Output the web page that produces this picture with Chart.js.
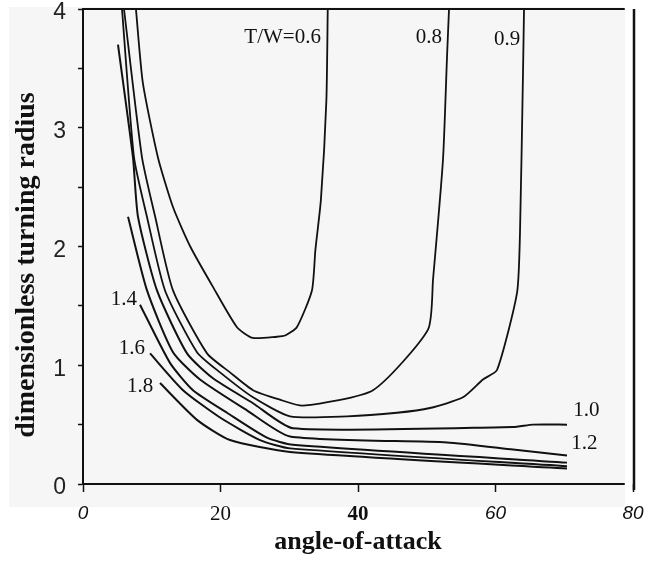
<!DOCTYPE html>
<html>
<head>
<meta charset="utf-8">
<script src="https://cdn.jsdelivr.net/npm/chart.js@4.4.1/dist/chart.umd.min.js"></script>
<style>
  html, body { margin: 0; padding: 0; background: #fff; }
  #wrap { width: 655px; height: 562px; }
</style>
</head>
<body>
<div id="wrap"><canvas id="turnChart" width="655" height="562"></canvas></div>
<script>
// thrust-to-weight ratio of each contour
const thrustRatios = ['0.6', '0.8', '0.9', '1.0', '1.2', '1.4', '1.6', '1.8'];

// angle-of-attack (x) and dimensionless turning radius (y)
const alpha06  = [7.7, 8.7, 10.9, 13.1, 15.6, 18.9, 22.4, 24.7, 28.2, 29.4, 31.1, 33.3, 33.8, 34.6, 35.4, 35.6];
const radius06 = [4.0, 3.38, 2.75, 2.33, 2.0, 1.66, 1.32, 1.23, 1.24, 1.25, 1.32, 1.63, 1.97, 2.39, 3.23, 4.0];

const alpha08  = [5.96, 8.58, 10.5, 13.09, 18.04, 21.38, 24.73, 28.65, 32.0, 42.18, 50.18, 50.91, 52.36, 52.95, 53.24];
const radius08 = [4.0, 2.75, 2.25, 1.63, 1.10, 0.94, 0.79, 0.71, 0.66, 0.79, 1.30, 1.72, 2.73, 3.60, 4.0];

const alpha09  = [5.67, 7.42, 9.3, 11.93, 16.58, 19.93, 24.73, 30.11, 38.4, 45.67, 50.47, 55.27, 58.18, 60.22, 63.13, 63.56, 64.0, 64.15];
const radius09 = [4.0, 2.75, 2.25, 1.63, 1.11, 0.94, 0.73, 0.57, 0.57, 0.60, 0.64, 0.73, 0.88, 0.96, 1.61, 2.11, 3.46, 4.0];

const alpha10  = [5.09, 7.27, 8.0, 10.76, 15.13, 18.91, 24.73, 30.55, 62.55, 65.45, 70.4];
const radius10 = [3.70, 2.75, 2.25, 1.63, 1.10, 0.89, 0.68, 0.47, 0.48, 0.50, 0.50];

const alpha12  = [6.55, 9.31, 13.09, 17.02, 23.85, 30.11, 52.95, 62.55, 70.4];
const radius12 = [2.25, 1.63, 1.11, 0.88, 0.62, 0.40, 0.35, 0.29, 0.24];

const alpha14  = [8.29, 12.65, 16.0, 20.95, 26.76, 30.55, 70.4];
const radius14 = [1.51, 1.02, 0.79, 0.60, 0.39, 0.33, 0.18];

const alpha16  = [9.75, 14.55, 19.93, 25.75, 30.11, 70.4];
const radius16 = [1.10, 0.79, 0.56, 0.37, 0.30, 0.15];

const alpha18  = [11.2, 16.58, 21.38, 30.11, 70.4];
const radius18 = [0.85, 0.54, 0.37, 0.27, 0.13];

const alphaSets  = [alpha06, alpha08, alpha09, alpha10, alpha12, alpha14, alpha16, alpha18];
const radiusSets = [radius06, radius08, radius09, radius10, radius12, radius14, radius16, radius18];

// where each contour's label sits (data units)
const labelText = ['T/W=0.6', '0.8', '0.9', '1.0', '1.2', '1.4', '1.6', '1.8'];
const labelX    = [34.6, 52.2, 63.6, 71.3, 71.0, 7.85, 9.0, 10.2];
const labelY    = [3.76, 3.76, 3.74, 0.62, 0.345, 1.55, 1.145, 0.82];
const labelSide = ['right', 'right', 'right', 'left', 'left', 'right', 'right', 'right'];

const xTicks = [0, 20, 40, 60, 80];
const xTickFonts = [
  { family: 'Liberation Sans', size: 19, style: 'italic' },
  { family: 'Liberation Serif', size: 21 },
  { family: 'Liberation Serif', size: 21, weight: 'bold' },
  { family: 'Liberation Sans', size: 19, style: 'italic' },
  { family: 'Liberation Sans', size: 19, style: 'italic' }
];

const datasets = thrustRatios.map((r, i) => ({
  label: 'T/W=' + r,
  data: alphaSets[i].map((a, j) => ({ x: a, y: radiusSets[i][j] })),
  showLine: true,
  borderColor: '#111',
  borderWidth: i < 3 ? 1.8 : 2,
  pointRadius: 0,
  tension: 0.2,
  fill: false
}));

const paperPlugin = {
  id: 'paper',
  beforeDraw(chart) {
    const { ctx } = chart;
    ctx.save();
    ctx.fillStyle = '#f6f6f6';
    ctx.fillRect(9, 7, 616, 500);
    ctx.restore();
  },
  afterDraw(chart) {
    const { ctx, scales: { x, y } } = chart;
    ctx.save();
    ctx.strokeStyle = '#111';
    ctx.lineWidth = 2;
    const frameEnd = x.getPixelForValue(78.8);
    ctx.beginPath();
    ctx.moveTo(x.left, y.getPixelForValue(4));
    ctx.lineTo(frameEnd, y.getPixelForValue(4));
    ctx.moveTo(x.left, y.getPixelForValue(0));
    ctx.lineTo(frameEnd, y.getPixelForValue(0));
    ctx.stroke();
    ctx.lineWidth = 2.5;
    ctx.beginPath();
    ctx.moveTo(x.getPixelForValue(80) + 1, y.getPixelForValue(4));
    ctx.lineTo(x.getPixelForValue(80) + 1, y.bottom + 6);
    ctx.stroke();

    // contour labels
    ctx.fillStyle = '#111';
    ctx.font = '21px "Liberation Serif"';
    ctx.textBaseline = 'middle';
    labelText.forEach((t, i) => {
      ctx.textAlign = labelSide[i];
      ctx.fillText(t, x.getPixelForValue(labelX[i]), y.getPixelForValue(labelY[i]));
    });

    // y axis title
    ctx.font = 'bold 28px "Liberation Serif"';
    ctx.textAlign = 'center';
    ctx.translate(27, 265);
    ctx.rotate(-Math.PI / 2);
    ctx.fillText('dimensionless turning radius', 0, 0);
    ctx.restore();
  }
};

new Chart(document.getElementById('turnChart'), {
  type: 'scatter',
  data: { datasets },
  plugins: [paperPlugin],
  options: {
    responsive: false,
    animation: false,
    layout: { padding: { top: 9, right: 22, left: 0, bottom: 0 } },
    plugins: { legend: { display: false }, tooltip: { enabled: false } },
    scales: {
      x: {
        type: 'linear',
        min: 0,
        max: 80,
        afterBuildTicks: s => { s.ticks = xTicks.map(v => ({ value: v })); },
        afterFit: s => { s.height = 78; s.paddingLeft = 0; s.paddingRight = 0; },
        border: { display: false },
        grid: { drawOnChartArea: false, tickLength: 8, tickColor: '#111', tickWidth: 1.5 },
        ticks: {
          color: '#111',
          padding: 10,
          maxRotation: 0,
          font: ctx => xTickFonts[ctx.index]
        },
        title: {
          display: true,
          text: 'angle-of-attack',
          color: '#111',
          font: { family: 'Liberation Serif', size: 26, weight: 'bold' },
          padding: { top: 0, bottom: 4 }
        }
      },
      y: {
        type: 'linear',
        min: 0,
        max: 4,
        afterFit: s => { s.width = 83; s.paddingTop = 0; s.paddingBottom = 0; },
        border: { display: true, color: '#111', width: 2 },
        grid: { drawOnChartArea: false, tickLength: 5, tickColor: '#111', tickWidth: 1.5 },
        ticks: {
          stepSize: 0.5,
          color: '#222',
          padding: 12,
          labelOffset: 4,
          font: { family: 'Liberation Sans', size: 23, weight: '300' },
          callback: v => (v % 1 === 0 ? v : '')
        }
      }
    }
  }
});
</script>
</body>
</html>
